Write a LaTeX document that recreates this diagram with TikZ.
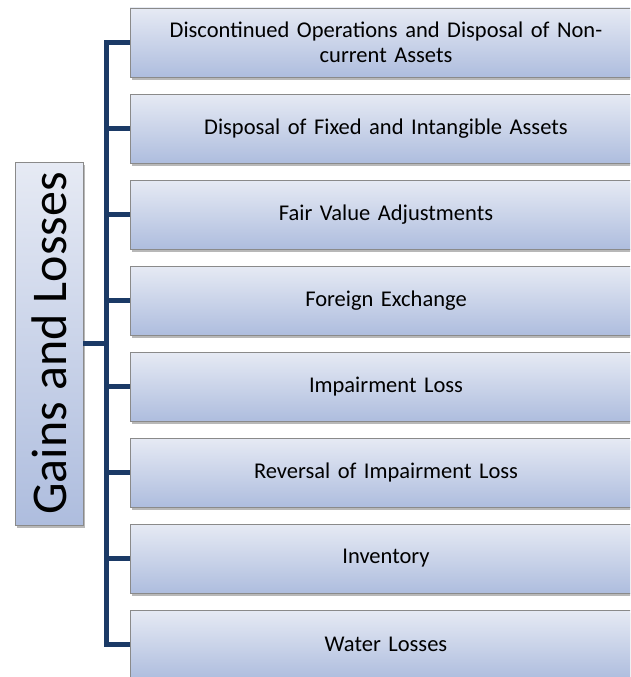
\documentclass[tikz,border=0pt]{standalone}
\usepackage{fontspec}
\setmainfont{Carlito}
\usetikzlibrary{shadows}
\definecolor{conncol}{HTML}{1B3A66}
\definecolor{boxtop}{HTML}{E6EAF4}
\definecolor{boxbot}{HTML}{AEBDDE}
\definecolor{boxline}{HTML}{8A8A8A}
\tikzset{
  leafbox/.style={draw=boxline, line width=0.9pt, top color=boxtop, bottom color=boxbot,
    minimum width=540pt, minimum height=69pt, inner sep=0pt, align=center, text width=500pt,
    font=\fontsize{22.5}{25}\selectfont,
    drop shadow={shadow xshift=1.5pt, shadow yshift=-3pt, fill=black, opacity=0.28}},
  rootbox/.style={draw=boxline, line width=0.9pt, top color=boxtop, bottom color=boxbot,
    minimum width=68pt, minimum height=363pt, inner sep=0pt,
    font=\fontsize{50}{53}\selectfont,
    drop shadow={shadow xshift=1.5pt, shadow yshift=-3pt, fill=black, opacity=0.28}},
  conn/.style={draw=conncol, line width=4.5pt, line join=miter, line cap=butt}
}
\begin{document}
\begin{tikzpicture}[x=1pt,y=-1pt]
\useasboundingbox (0,0) rectangle (630,677);
\clip (0,0) rectangle (630,677);
\node[leafbox] (b1) at (400,42.5) {\hspace*{-28pt}Discontinued Operations and Disposal of Non-\\\hspace*{-28pt}current Assets};
\node[leafbox] (b2) at (400,128.5) {\hspace*{-28pt}Disposal of Fixed and Intangible Assets};
\node[leafbox] (b3) at (400,214.5) {\hspace*{-28pt}Fair Value Adjustments};
\node[leafbox] (b4) at (400,300.5) {\hspace*{-28pt}Foreign Exchange};
\node[leafbox] (b5) at (400,386.5) {\hspace*{-28pt}Impairment Loss};
\node[leafbox] (b6) at (400,472.5) {\hspace*{-28pt}Reversal of Impairment Loss};
\node[leafbox] (b7) at (400,558.5) {\hspace*{-28pt}Inventory};
\node[leafbox] (b8) at (400,644.5) {\hspace*{-28pt}Water Losses};
\node[rootbox] (root) at (49,343.5) {\rotatebox{90}{Gains and Losses}};
\coordinate (t1) at (106.5,42.5);
\coordinate (t8) at (106.5,644.5);
\draw[conn] (b1.west) -- (t1) -- (t8) -- (b8.west);
\foreach \i in {2,...,7} {
  \draw[conn] (b\i.west) -- (b\i.west -| t1);
}
\draw[conn] (root.east) -- (root.east -| t1);
\end{tikzpicture}
\end{document}
